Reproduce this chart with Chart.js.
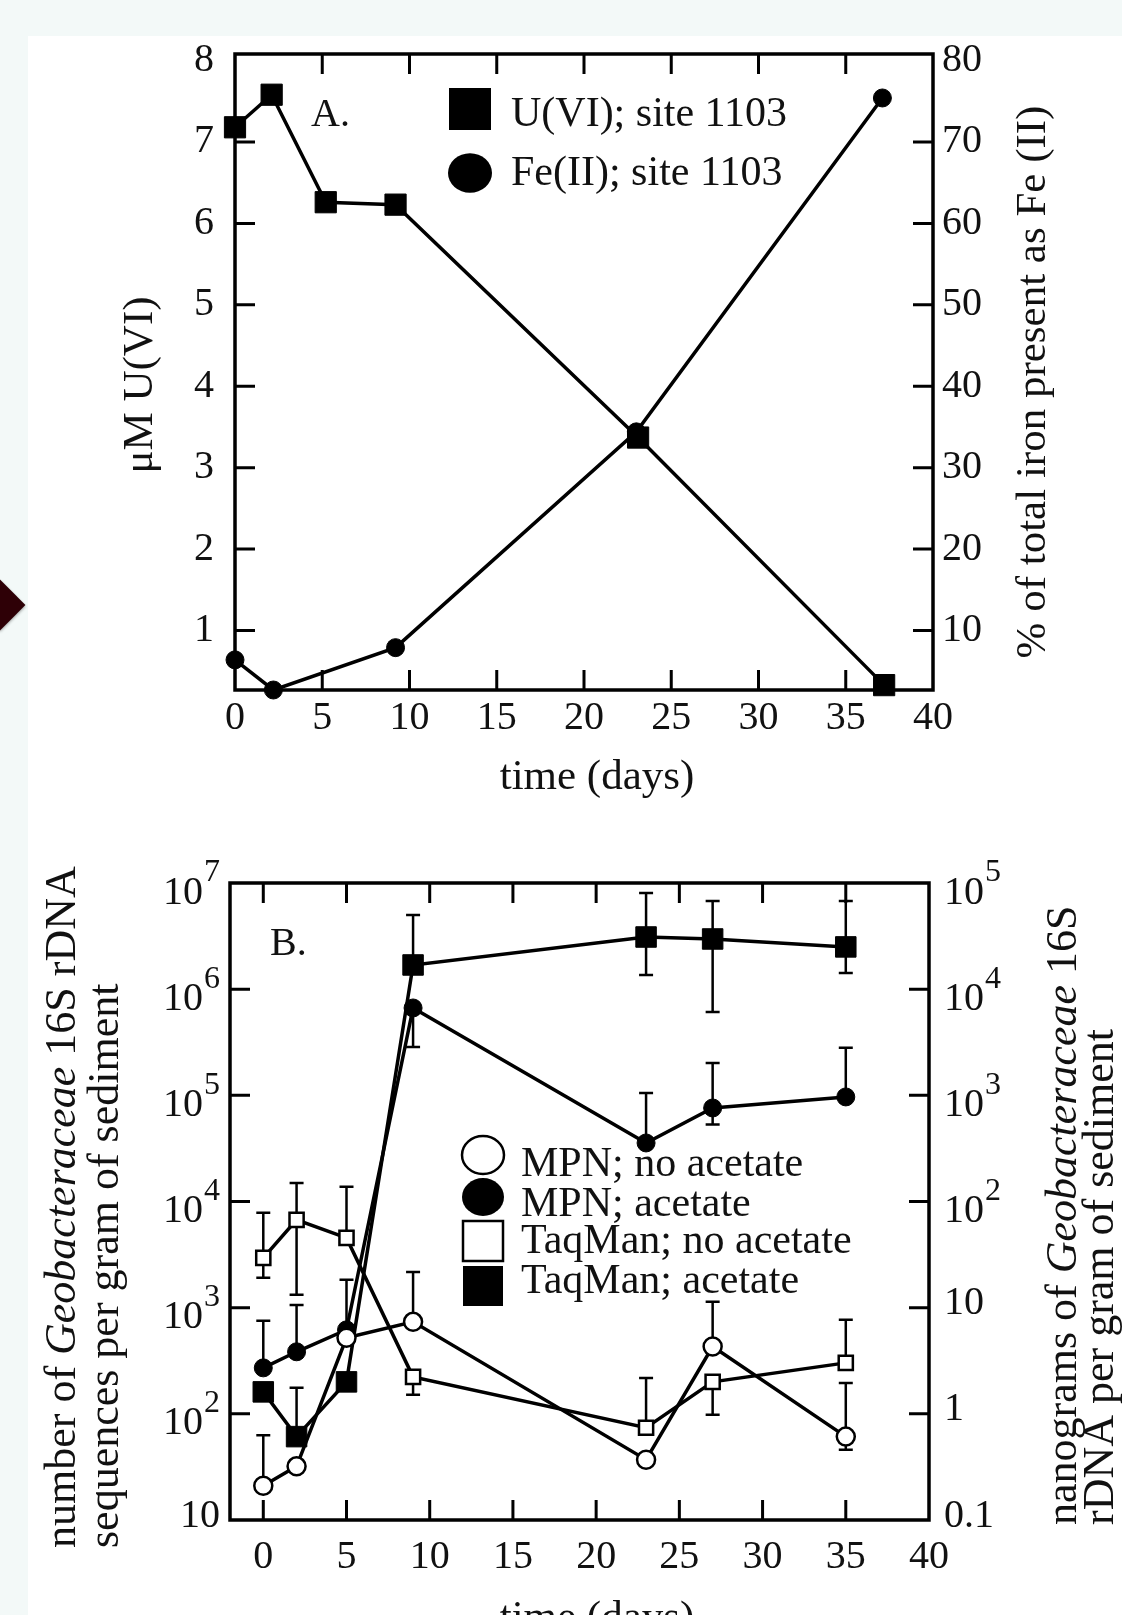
<!DOCTYPE html>
<html>
<head>
<meta charset="utf-8">
<script src="https://cdn.jsdelivr.net/npm/chart.js@4"></script>
<style>
  html, body { margin: 0; padding: 0; background: #fff; }
  body { width: 1122px; height: 1615px; position: relative; overflow: hidden; }
  .strip-top { position: absolute; left: 0; top: 0; width: 1122px; height: 36px; background: #f3f9f8; }
  .strip-left { position: absolute; left: 0; top: 0; width: 28px; height: 1615px; background: #f3f9f8; }
  .diamond { position: absolute; left: -18px; top: 587px; width: 36px; height: 36px; background: #2e0006;
             transform: rotate(45deg); box-shadow: 1px 1px 3px rgba(0,0,0,0.35); }
  #wrapA { position: absolute; left: 0; top: 0; width: 1122px; height: 800px; }
  #wrapB { position: absolute; left: 0; top: 800px; width: 1122px; height: 815px; }
</style>
</head>
<body>
<div class="strip-top"></div>
<div class="strip-left"></div>
<div class="diamond"></div>
<div id="wrapA"><canvas id="chartA"></canvas></div>
<div id="wrapB"><canvas id="chartB"></canvas></div>

<script>
// ---- panel A: site 1103 ----
const daysU = [0, 2.1, 5.2, 9.2, 23.1, 37.2];
const uvi = [7.18, 7.58, 6.26, 6.23, 3.37, 0.33];          // uM U(VI)
const daysFe = [0, 2.2, 9.2, 23.0, 37.1];
const feII = [6.4, 2.7, 7.9, 34.4, 75.4];                  // % of total iron as Fe(II)
const ticksDaysA = [0, 5, 10, 15, 20, 25, 30, 35, 40];
const ticksUVI = [1, 2, 3, 4, 5, 6, 7, 8];
const ticksFe = [10, 20, 30, 40, 50, 60, 70, 80];

// ---- panel B: Geobacteraceae counts ----
const daysB = [0, 2, 5, 9, 23, 27, 35];
const mpnNo = [21, 32, 520, 735, 37, 430, 61];
const mpnNoHi = [63, null, null, 2170, null, 1135, 195];
const mpnNoLo = [null, null, null, null, null, null, 46];
const mpnAc = [271, 384, 618, 665000, 35600, 76000, 96600];
const mpnAcHi = [751, 1060, 1830, null, 105000, 202000, 280000];
const mpnAcLo = [null, null, null, 286000, null, 53000, null];
const tqNo = [2940, 6710, 4540, 223, 74, 200, 302];
const tqNoHi = [7820, 14960, 13740, null, 218, null, 768];
const tqNoLo = [1910, 1320, null, 151, null, 98, null];
const tqAc = [161, 61, 200, 1690000, 3100000, 2970000, 2500000];
const tqAcHi = [null, 176, null, 5000000, 8050000, 6780000, 6780000];
const tqAcLo = [null, null, null, null, 1360000, 610000, 1420000];
const ticksDaysB = [0, 5, 10, 15, 20, 25, 30, 35, 40];
const ticksSeq = [10, 1e2, 1e3, 1e4, 1e5, 1e6, 1e7];
const ticksNg = [0.1, 1, 10, 1e2, 1e3, 1e4, 1e5];

const FAM = '"Liberation Serif", "Times New Roman", serif';
const INK = '#111';
const tickFont = { family: FAM, size: 40, lineHeight: 1.2 };

function pts(xs, ys) { return xs.map((x, i) => ({ x: x, y: ys[i] })); }
function setTicks(list) { return s => { s.ticks = list.map(v => ({ value: v })); }; }

// box round the plot + inward tick marks
const frame = {
  id: 'frame',
  beforeDatasetsDraw(chart, args, o) {
    const { ctx, chartArea: a, scales } = chart;
    ctx.save();
    ctx.strokeStyle = '#000';
    ctx.lineWidth = 3.5;
    ctx.strokeRect(a.left, a.top, a.right - a.left, a.bottom - a.top);
    ctx.lineWidth = 3;
    ctx.beginPath();
    (o.x || []).forEach(v => {
      const px = scales.x.getPixelForValue(v);
      ctx.moveTo(px, a.bottom); ctx.lineTo(px, a.bottom - 20);
      ctx.moveTo(px, a.top); ctx.lineTo(px, a.top + 20);
    });
    (o.y || []).forEach(v => {
      const py = scales.y.getPixelForValue(v);
      ctx.moveTo(a.left, py); ctx.lineTo(a.left + 20, py);
    });
    (o.y2 || []).forEach(v => {
      const py = scales.y2.getPixelForValue(v);
      ctx.moveTo(a.right, py); ctx.lineTo(a.right - 20, py);
    });
    ctx.stroke();
    ctx.restore();
  }
};

const errorBars = {
  id: 'errorBars',
  beforeDatasetsDraw(chart) {
    const { ctx, scales } = chart;
    ctx.save();
    ctx.strokeStyle = '#000';
    ctx.lineWidth = 2.5;
    chart.data.datasets.forEach(ds => {
      const ys = scales[ds.yAxisID || 'y'];
      ds.data.forEach((p, i) => {
        const px = scales.x.getPixelForValue(p.x), py = ys.getPixelForValue(p.y);
        [ds.errHi, ds.errLo].forEach(arr => {
          if (!arr || arr[i] == null) return;
          const ey = ys.getPixelForValue(arr[i]);
          ctx.beginPath();
          ctx.moveTo(px, py); ctx.lineTo(px, ey);
          ctx.moveTo(px - 7, ey); ctx.lineTo(px + 7, ey);
          ctx.stroke();
        });
      });
    });
    ctx.restore();
  }
};

function drawSegs(ctx, segs, x, y, rot, align, size) {
  ctx.save();
  ctx.translate(x, y);
  ctx.rotate(rot);
  const f = s => (s.it ? 'italic ' : '') + size + 'px ' + FAM;
  let total = 0;
  segs.forEach(s => { ctx.font = f(s); total += ctx.measureText(s.t).width; });
  let cx = align === 'center' ? -total / 2 : 0;
  ctx.textBaseline = 'alphabetic';
  ctx.textAlign = 'left';
  ctx.fillStyle = INK;
  segs.forEach(s => { ctx.font = f(s); ctx.fillText(s.t, cx, 0); cx += ctx.measureText(s.t).width; });
  ctx.restore();
}

// titles, panel letters, legends
const notes = {
  id: 'notes',
  afterDatasetsDraw(chart, args, o) {
    const ctx = chart.ctx;
    (o.texts || []).forEach(t => drawSegs(ctx, t.segs, t.x, t.y, t.rot || 0, t.align || 'left', t.size));
    (o.legend || []).forEach(it => {
      ctx.save();
      ctx.fillStyle = '#000';
      ctx.strokeStyle = '#000';
      ctx.lineWidth = 2.5;
      ctx.beginPath();
      if (it.shape === 'rect') ctx.rect(it.sx - it.s / 2, it.sy - it.s / 2, it.s, it.s);
      else ctx.ellipse(it.sx, it.sy, it.s / 2, it.s * 0.45, 0, 0, Math.PI * 2);
      if (it.filled) ctx.fill(); else { ctx.fillStyle = '#fff'; ctx.fill(); ctx.stroke(); }
      ctx.restore();
      drawSegs(ctx, [{ t: it.label }], it.tx, it.ty, 0, 'left', it.size);
    });
  }
};

// log labels with real superscripts for panel B
function supLabel(ctx, v, x, y, side) {
  const e = Math.round(Math.log10(v));
  ctx.save();
  ctx.fillStyle = INK;
  ctx.textBaseline = 'middle';
  if (e >= 2) {
    ctx.font = '40px ' + FAM;
    const wb = ctx.measureText('10').width;
    ctx.font = '32px ' + FAM;
    const ws = ctx.measureText(String(e)).width;
    const x0 = side === 'left' ? x - wb - ws - 1 : x;
    ctx.textAlign = 'left';
    ctx.font = '40px ' + FAM;
    ctx.fillText('10', x0, y + 10);
    ctx.font = '32px ' + FAM;
    ctx.fillText(String(e), x0 + wb + 1, y - 10);
  } else {
    ctx.font = '40px ' + FAM;
    ctx.textAlign = side === 'left' ? 'right' : 'left';
    ctx.fillText(String(v), x, y - 4);
  }
  ctx.restore();
}
const logLabels = {
  id: 'logLabels',
  afterDraw(chart) {
    const { ctx, chartArea: a, scales } = chart;
    ticksSeq.forEach(v => supLabel(ctx, v, a.left - 10, scales.y.getPixelForValue(v), 'left'));
    ticksNg.forEach(v => supLabel(ctx, v, a.right + 15, scales.y2.getPixelForValue(v), 'right'));
  }
};

const line = { borderColor: '#000', borderWidth: 3.5, showLine: true, clip: false, pointBorderColor: '#000' };

// ---------- chart A ----------
new Chart(document.getElementById('chartA'), {
  type: 'scatter',
  data: {
    datasets: [
      Object.assign({ label: 'U(VI); site 1103', data: pts(daysU, uvi), yAxisID: 'y',
        pointStyle: 'rect', pointRadius: 15, pointBackgroundColor: '#000', pointBorderWidth: 1 }, line),
      Object.assign({ label: 'Fe(II); site 1103', data: pts(daysFe, feII), yAxisID: 'y2',
        pointStyle: 'circle', pointRadius: 9, pointBackgroundColor: '#000', pointBorderWidth: 1 }, line)
    ]
  },
  options: {
    responsive: true, maintainAspectRatio: false, animation: false, devicePixelRatio: 1,
    layout: { padding: { top: 54, left: 0, right: 0, bottom: 0 } },
    scales: {
      x: { type: 'linear', min: 0, max: 40, afterBuildTicks: setTicks(ticksDaysA),
           afterFit: s => { s.height = 110; },
           grid: { display: false, drawTicks: false }, border: { display: false },
           ticks: { font: tickFont, color: INK, padding: 4, maxRotation: 0 } },
      y: { type: 'linear', position: 'left', min: 0.27, max: 8.08, afterBuildTicks: setTicks(ticksUVI),
           afterFit: s => { s.width = 235; },
           grid: { display: false, drawTicks: false }, border: { display: false },
           ticks: { font: tickFont, color: INK, padding: 21 } },
      y2: { type: 'linear', position: 'right', min: 2.7, max: 80.8, afterBuildTicks: setTicks(ticksFe),
           afterFit: s => { s.width = 189; },
           grid: { display: false, drawTicks: false }, border: { display: false },
           ticks: { font: tickFont, color: INK, padding: 9 } }
    },
    plugins: {
      legend: { display: false }, tooltip: { enabled: false },
      frame: { x: [5, 10, 15, 20, 25, 30, 35], y: [1, 2, 3, 4, 5, 6, 7], y2: [10, 20, 30, 40, 50, 60, 70] },
      notes: {
        texts: [
          { segs: [{ t: 'time (days)' }], x: 597, y: 789, align: 'center', size: 43 },
          { segs: [{ t: 'μM U(VI)' }], x: 152, y: 385, rot: -Math.PI / 2, align: 'center', size: 43 },
          { segs: [{ t: '% of total iron present as Fe (II)' }], x: 1045, y: 382, rot: -Math.PI / 2, align: 'center', size: 43 },
          { segs: [{ t: 'A.' }], x: 311, y: 126, size: 40 }
        ],
        legend: [
          { label: 'U(VI); site 1103', shape: 'rect', filled: true, sx: 470, sy: 109, s: 42, tx: 511, ty: 126, size: 42 },
          { label: 'Fe(II); site 1103', shape: 'circle', filled: true, sx: 470, sy: 173, s: 44, tx: 511, ty: 185, size: 42 }
        ]
      }
    }
  },
  plugins: [frame, notes]
});

// ---------- chart B ----------
new Chart(document.getElementById('chartB'), {
  type: 'scatter',
  data: {
    datasets: [
      Object.assign({ label: 'MPN; no acetate', data: pts(daysB, mpnNo), errHi: mpnNoHi, errLo: mpnNoLo,
        pointStyle: 'circle', pointRadius: 9, pointBackgroundColor: '#fff', pointBorderWidth: 2.5 }, line),
      Object.assign({ label: 'MPN; acetate', data: pts(daysB, mpnAc), errHi: mpnAcHi, errLo: mpnAcLo,
        pointStyle: 'circle', pointRadius: 9, pointBackgroundColor: '#000', pointBorderWidth: 1 }, line),
      Object.assign({ label: 'TaqMan; no acetate', data: pts(daysB, tqNo), errHi: tqNoHi, errLo: tqNoLo,
        pointStyle: 'rect', pointRadius: 10, pointBackgroundColor: '#fff', pointBorderWidth: 2.5 }, line),
      Object.assign({ label: 'TaqMan; acetate', data: pts(daysB, tqAc), errHi: tqAcHi, errLo: tqAcLo,
        pointStyle: 'rect', pointRadius: 14.5, pointBackgroundColor: '#000', pointBorderWidth: 1 }, line)
    ]
  },
  options: {
    responsive: true, maintainAspectRatio: false, animation: false, devicePixelRatio: 1,
    layout: { padding: { top: 83, left: 0, right: 0, bottom: 0 } },
    scales: {
      x: { type: 'linear', min: -2, max: 40, afterBuildTicks: setTicks(ticksDaysB),
           afterFit: s => { s.height = 95; },
           grid: { display: false, drawTicks: false }, border: { display: false },
           ticks: { font: tickFont, color: INK, padding: 13, maxRotation: 0 } },
      y: { type: 'logarithmic', position: 'left', min: 10, max: 1e7, afterBuildTicks: setTicks(ticksSeq),
           afterFit: s => { s.width = 230; },
           grid: { display: false, drawTicks: false }, border: { display: false },
           ticks: { display: false } },
      y2: { type: 'logarithmic', position: 'right', min: 0.1, max: 1e5, afterBuildTicks: setTicks(ticksNg),
           afterFit: s => { s.width = 193; },
           grid: { display: false, drawTicks: false }, border: { display: false },
           ticks: { display: false } }
    },
    plugins: {
      legend: { display: false }, tooltip: { enabled: false },
      frame: { x: [0, 5, 10, 15, 20, 25, 30, 35], y: [1e2, 1e3, 1e4, 1e5, 1e6], y2: [1, 10, 1e2, 1e3, 1e4] },
      notes: {
        texts: [
          { segs: [{ t: 'time (days)' }], x: 597, y: 830, align: 'center', size: 43 },
          { segs: [{ t: 'number of ' }, { t: 'Geobacteraceae', it: true }, { t: ' 16S rDNA' }], x: 75, y: 748, rot: -Math.PI / 2, size: 44 },
          { segs: [{ t: 'sequences per gram of sediment' }], x: 118, y: 748, rot: -Math.PI / 2, size: 44 },
          { segs: [{ t: 'nanograms of ' }, { t: 'Geobacteraceae', it: true }, { t: ' 16S' }], x: 1076, y: 725, rot: -Math.PI / 2, size: 44 },
          { segs: [{ t: 'rDNA per gram of sediment' }], x: 1113, y: 725, rot: -Math.PI / 2, size: 44 },
          { segs: [{ t: 'B.' }], x: 270, y: 155, size: 40 }
        ],
        legend: [
          { label: 'MPN; no acetate', shape: 'circle', filled: false, sx: 483, sy: 355, s: 42, tx: 521, ty: 376, size: 42 },
          { label: 'MPN; acetate', shape: 'circle', filled: true, sx: 483, sy: 397, s: 42, tx: 521, ty: 416, size: 42 },
          { label: 'TaqMan; no acetate', shape: 'rect', filled: false, sx: 483, sy: 441, s: 40, tx: 521, ty: 453, size: 42 },
          { label: 'TaqMan; acetate', shape: 'rect', filled: true, sx: 483, sy: 486, s: 40, tx: 521, ty: 493, size: 42 }
        ]
      }
    }
  },
  plugins: [frame, errorBars, notes, logLabels]
});
</script>
</body>
</html>
